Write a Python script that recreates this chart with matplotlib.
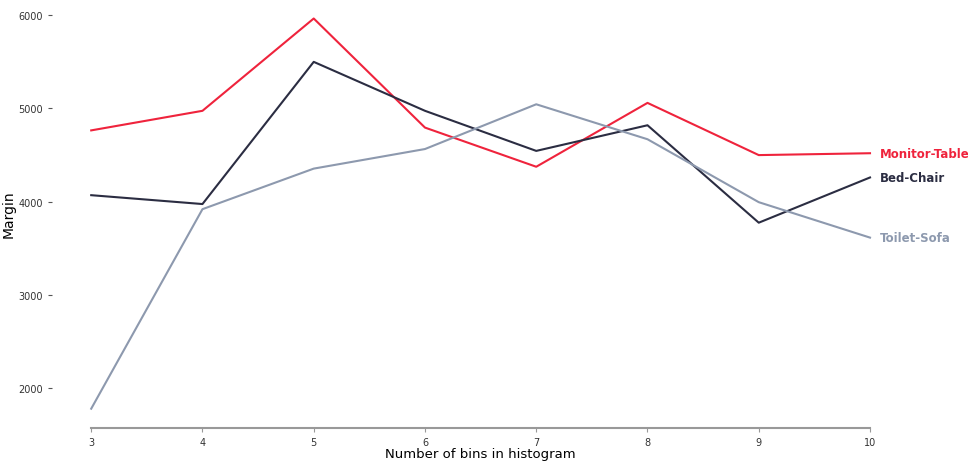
import matplotlib
matplotlib.use("Agg")
from matplotlib import pyplot as plt

bins = [3, 4, 5, 6, 7, 8, 9, 10]
monitor_table = [4765, 4975, 5965, 4795, 4375, 5060, 4500, 4520]
bed_chair = [4070, 3975, 5500, 4975, 4545, 4820, 3775, 4260]
toilet_sofa = [1780, 3920, 4355, 4565, 5045, 4670, 3995, 3615]

series = [
    ("Monitor-Table", monitor_table, "#ef233c"),
    ("Bed-Chair", bed_chair, "#2b2d42"),
    ("Toilet-Sofa", toilet_sofa, "#8d99ae"),
]

fig = plt.figure(figsize=(9.68, 4.64), dpi=100)
ax = fig.add_axes([0.054, 0.075, 0.885, 0.925])

for name, vals, col in series:
    ax.plot(bins, vals, color=col, linewidth=1.5)
    # label at the end of each line
    ax.text(bins[-1] + 0.09, vals[-1], name, color=col, fontsize=8.5,
            fontweight="bold", va="center", ha="left")

ax.set_xticks(bins)
ax.set_yticks([2000, 3000, 4000, 5000, 6000])
ax.tick_params(axis="both", labelsize=7, colors="#333333", length=3)
ax.tick_params(axis="x", color="#999999")
ax.tick_params(axis="y", color="#555555")

for s in ["top", "right", "left"]:
    ax.spines[s].set_visible(False)
ax.spines["bottom"].set_bounds(3, 10)
ax.spines["bottom"].set_color("#999999")
ax.spines["bottom"].set_linewidth(1.5)

ax.set_xlabel("Number of bins in histogram", fontsize=9.5, labelpad=0)
ax.set_ylabel("Margin", fontsize=10, labelpad=2)

fig.savefig("out.png", dpi=100)
